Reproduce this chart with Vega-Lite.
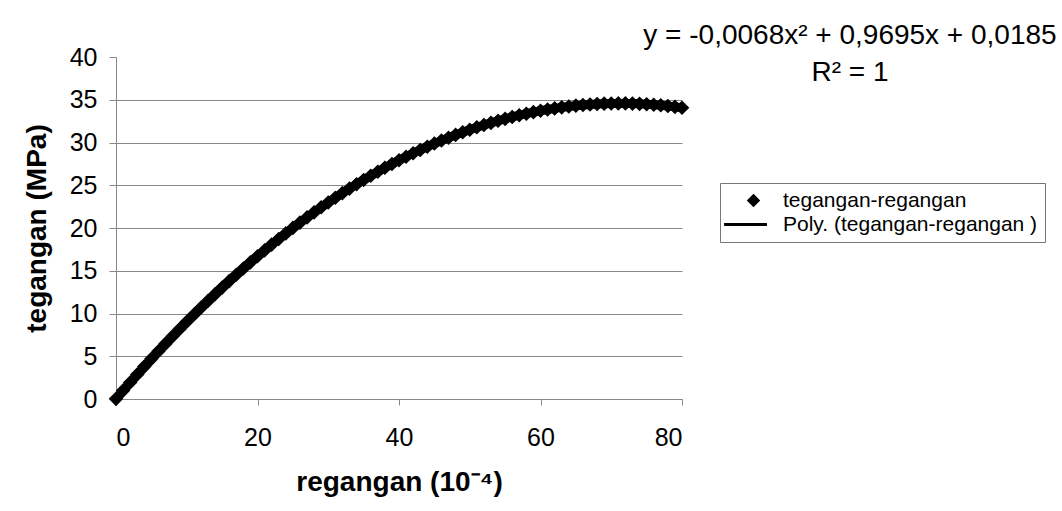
{
  "$schema": "https://vega.github.io/schema/vega-lite/v6.json",
  "width": 566,
  "height": 342,
  "autosize": {"type": "none"},
  "padding": {"left": 116, "top": 57, "right": 380, "bottom": 112},
  "background": "white",
  "config": {
    "font": "Liberation Sans",
    "view": {"stroke": null},
    "axis": {
      "labelFont": "Liberation Sans",
      "titleFont": "Liberation Sans",
      "labelColor": "black",
      "titleColor": "black",
      "domainColor": "#888",
      "tickColor": "#888",
      "gridColor": "#888",
      "gridWidth": 1,
      "domainWidth": 1,
      "tickWidth": 1
    },
    "legend": {
      "orient": "none",
      "legendX": 604,
      "legendY": 126,
      "labelFont": "Liberation Sans",
      "labelFontSize": 21,
      "labelColor": "black",
      "labelLimit": 400,
      "labelOffset": 19,
      "symbolOffset": 16,
      "strokeColor": "#777",
      "strokeWidth": 1,
      "padding": 7,
      "rowPadding": 1,
      "symbolSize": 150,
      "symbolStrokeColor": "black",
      "symbolStrokeWidth": 3,
      "symbolFillColor": "black",
      "symbolOpacity": 1
    }
  },
  "title": {
    "text": ["y = -0,0068x² + 0,9695x + 0,0185", "R² = 1"],
    "orient": "top",
    "anchor": "end",
    "frame": "group",
    "align": "center",
    "dx": 168,
    "dy": 42,
    "offset": 0,
    "font": "Liberation Sans",
    "fontSize": 28,
    "fontWeight": "normal",
    "lineHeight": 37,
    "color": "black"
  },
  "data": {
    "values": [
      {"x": 0, "y": 0.02}, {"x": 1, "y": 0.98}, {"x": 2, "y": 1.93}, {"x": 3, "y": 2.87}, {"x": 4, "y": 3.79},
      {"x": 5, "y": 4.70}, {"x": 6, "y": 5.59}, {"x": 7, "y": 6.47}, {"x": 8, "y": 7.34}, {"x": 9, "y": 8.19},
      {"x": 10, "y": 9.03}, {"x": 11, "y": 9.86}, {"x": 12, "y": 10.67}, {"x": 13, "y": 11.47}, {"x": 14, "y": 12.26},
      {"x": 15, "y": 13.03}, {"x": 16, "y": 13.79}, {"x": 17, "y": 14.53}, {"x": 18, "y": 15.27}, {"x": 19, "y": 15.98},
      {"x": 20, "y": 16.69}, {"x": 21, "y": 17.38}, {"x": 22, "y": 18.06}, {"x": 23, "y": 18.72}, {"x": 24, "y": 19.37},
      {"x": 25, "y": 20.01}, {"x": 26, "y": 20.63}, {"x": 27, "y": 21.24}, {"x": 28, "y": 21.83}, {"x": 29, "y": 22.42},
      {"x": 30, "y": 22.98}, {"x": 31, "y": 23.54}, {"x": 32, "y": 24.08}, {"x": 33, "y": 24.61}, {"x": 34, "y": 25.12},
      {"x": 35, "y": 25.62}, {"x": 36, "y": 26.11}, {"x": 37, "y": 26.58}, {"x": 38, "y": 27.04}, {"x": 39, "y": 27.49},
      {"x": 40, "y": 27.92}, {"x": 41, "y": 28.34}, {"x": 42, "y": 28.74}, {"x": 43, "y": 29.13}, {"x": 44, "y": 29.51},
      {"x": 45, "y": 29.88}, {"x": 46, "y": 30.23}, {"x": 47, "y": 30.56}, {"x": 48, "y": 30.89}, {"x": 49, "y": 31.20},
      {"x": 50, "y": 31.49}, {"x": 51, "y": 31.78}, {"x": 52, "y": 32.05}, {"x": 53, "y": 32.30}, {"x": 54, "y": 32.54},
      {"x": 55, "y": 32.77}, {"x": 56, "y": 32.99}, {"x": 57, "y": 33.19}, {"x": 58, "y": 33.37}, {"x": 59, "y": 33.55},
      {"x": 60, "y": 33.71}, {"x": 61, "y": 33.86}, {"x": 62, "y": 33.99}, {"x": 63, "y": 34.11}, {"x": 64, "y": 34.21},
      {"x": 65, "y": 34.31}, {"x": 66, "y": 34.38}, {"x": 67, "y": 34.45}, {"x": 68, "y": 34.50}, {"x": 69, "y": 34.54},
      {"x": 70, "y": 34.56}, {"x": 71, "y": 34.57}, {"x": 72, "y": 34.57}, {"x": 73, "y": 34.55}, {"x": 74, "y": 34.52},
      {"x": 75, "y": 34.48}, {"x": 76, "y": 34.42}, {"x": 77, "y": 34.35}, {"x": 78, "y": 34.27}, {"x": 79, "y": 34.17},
      {"x": 80, "y": 34.06}
    ]
  },
  "encoding": {
    "x": {
      "field": "x",
      "type": "quantitative",
      "scale": {"domain": [0, 80], "nice": false},
      "axis": {
        "values": [0, 20, 40, 60, 80],
        "grid": false,
        "title": "regangan (10⁻⁴)",
        "titleFontSize": 28,
        "titleFontWeight": "bold",
        "titlePadding": 18,
        "labelFontSize": 25,
        "labelPadding": 20,
        "tickSize": 6
      }
    },
    "y": {
      "field": "y",
      "type": "quantitative",
      "scale": {"domain": [0, 40], "nice": false},
      "axis": {
        "values": [0, 5, 10, 15, 20, 25, 30, 35, 40],
        "grid": true,
        "gridColor": {"condition": {"test": "datum.value >= 40", "value": "transparent"}, "value": "#888"},
        "title": "tegangan (MPa)",
        "titleFontSize": 28,
        "titleFontWeight": "bold",
        "titlePadding": 18,
        "labelFontSize": 25,
        "labelPadding": 12,
        "tickSize": 7
      }
    }
  },
  "layer": [
    {
      "mark": {"type": "line", "strokeWidth": 9, "clip": false},
      "encoding": {
        "color": {
          "datum": "Poly. (tegangan-regangan )",
          "scale": {
            "domain": ["tegangan-regangan", "Poly. (tegangan-regangan )"],
            "range": ["black", "black"]
          },
          "title": null
        }
      }
    },
    {
      "mark": {"type": "point", "filled": true, "size": 380, "opacity": 1, "clip": false},
      "encoding": {
        "color": {"datum": "tegangan-regangan", "title": null},
        "shape": {
          "datum": "tegangan-regangan",
          "scale": {
            "domain": ["tegangan-regangan", "Poly. (tegangan-regangan )"],
            "range": ["M0,-0.75L0.75,0L0,0.75L-0.75,0Z", "M-4.8,0L2.2,0"]
          },
          "title": null
        }
      }
    }
  ],
  "resolve": {"legend": {"color": "shared", "shape": "shared"}}
}
